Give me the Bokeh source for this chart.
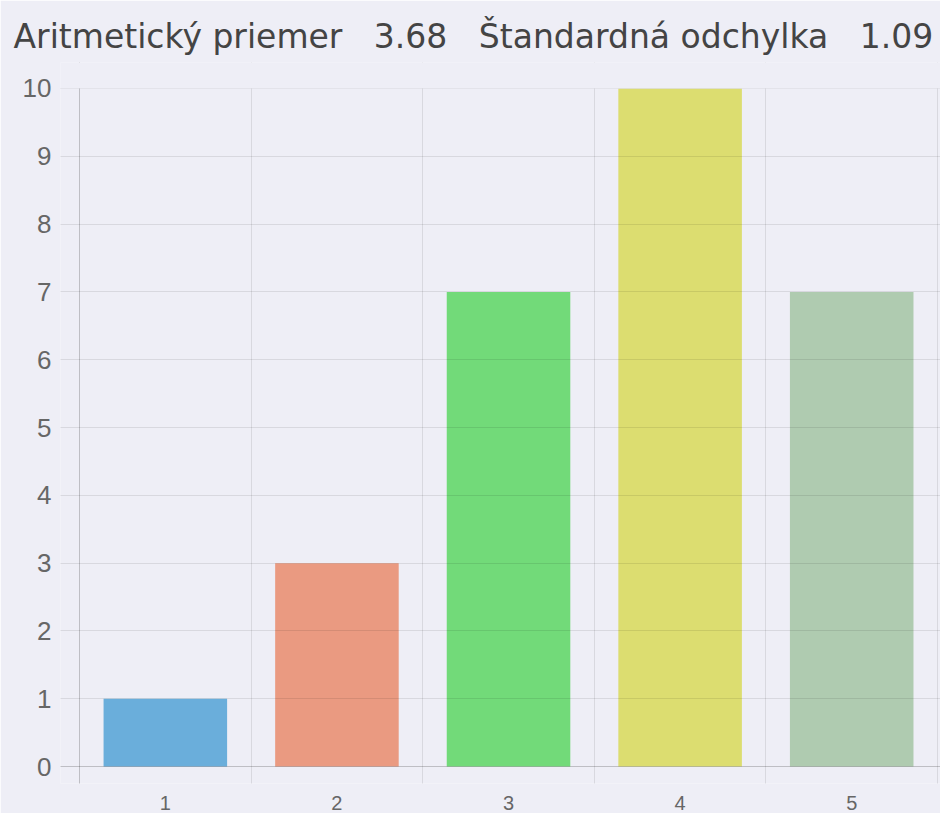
import numpy as np
from bokeh.plotting import figure
from bokeh.models import ColumnDataSource, FixedTicker, Range1d, Grid, BoxAnnotation
from bokeh.embed import file_html
from bokeh.resources import INLINE

# ---- data ----
grades = [1, 2, 3, 4, 5]
counts = [1, 3, 7, 10, 7]
bar_colors = ["#6aaedb", "#ea9a81", "#72da79", "#dcdd70", "#afcbb0"]
y_ticks = [0, 1, 2, 3, 4, 5, 6, 7, 8, 9, 10]
grid_bounds = [0.5, 1.5, 2.5, 3.5, 4.5, 5.5]

values = np.repeat(grades, counts)
mean_val = values.mean()
std_val = values.std(ddof=1)
gap = "\u00a0\u00a0\u00a0"
title_text = f"Aritmetický priemer{gap}{mean_val:.2f}{gap}Štandardná odchylka{gap}{std_val:.2f}"

BG = "#eeeef6"

source = ColumnDataSource(dict(x=grades, top=counts, color=bar_colors))

p = figure(
    width=940, height=813,
    x_range=Range1d(0.389, 5.5175),
    y_range=Range1d(-0.25, 10.3834),
    output_backend="svg", toolbar_location=None,
    min_border_left=60, min_border_right=0, min_border_top=62, min_border_bottom=30,
)
p.background_fill_color = BG
p.border_fill_color = BG
p.outline_line_color = None

p.vbar(x="x", top="top", bottom=0, width=0.72, fill_color="color", line_color=None, source=source)

# grids (drawn over the bars, like the reference)
p.xgrid.ticker = FixedTicker(ticks=grid_bounds[1:])
p.ygrid.ticker = FixedTicker(ticks=y_ticks[1:])
for g in p.grid:
    g.grid_line_color = "black"
    g.grid_line_alpha = 0.09
    g.level = "guide"

# darker axis lines at the category start and at zero
p.add_layout(Grid(dimension=0, ticker=FixedTicker(ticks=grid_bounds[:1]),
                  grid_line_color="black", grid_line_alpha=0.2, level="guide"))
p.add_layout(Grid(dimension=1, ticker=FixedTicker(ticks=y_ticks[:1]),
                  grid_line_color="black", grid_line_alpha=0.2, level="guide"))

# keep the area above the top value clean
p.add_layout(BoxAnnotation(bottom=y_ticks[-1], fill_color=BG, fill_alpha=1.0, line_color=None))

# axes
p.xaxis.ticker = FixedTicker(ticks=grades)
p.yaxis.ticker = FixedTicker(ticks=y_ticks)
for ax in (p.xaxis[0], p.yaxis[0]):
    ax.axis_line_color = None
    ax.major_tick_line_color = None
    ax.minor_tick_line_color = None
    ax.major_label_text_color = "#666666"
    ax.major_label_text_font = "Liberation Sans"
p.yaxis.major_label_text_font_size = "26px"
p.yaxis.major_label_standoff = 3
p.xaxis.major_label_text_font_size = "20px"
p.xaxis.major_label_standoff = 6

# title
p.title.text = title_text
p.title.text_font = "DejaVu Sans"
p.title.text_font_size = "33px"
p.title.text_font_style = "normal"
p.title.text_color = "#444444"
p.title.align = "left"
p.title.offset = -47
p.title.standoff = 14

open("out.html", "w").write(file_html(p, INLINE))
